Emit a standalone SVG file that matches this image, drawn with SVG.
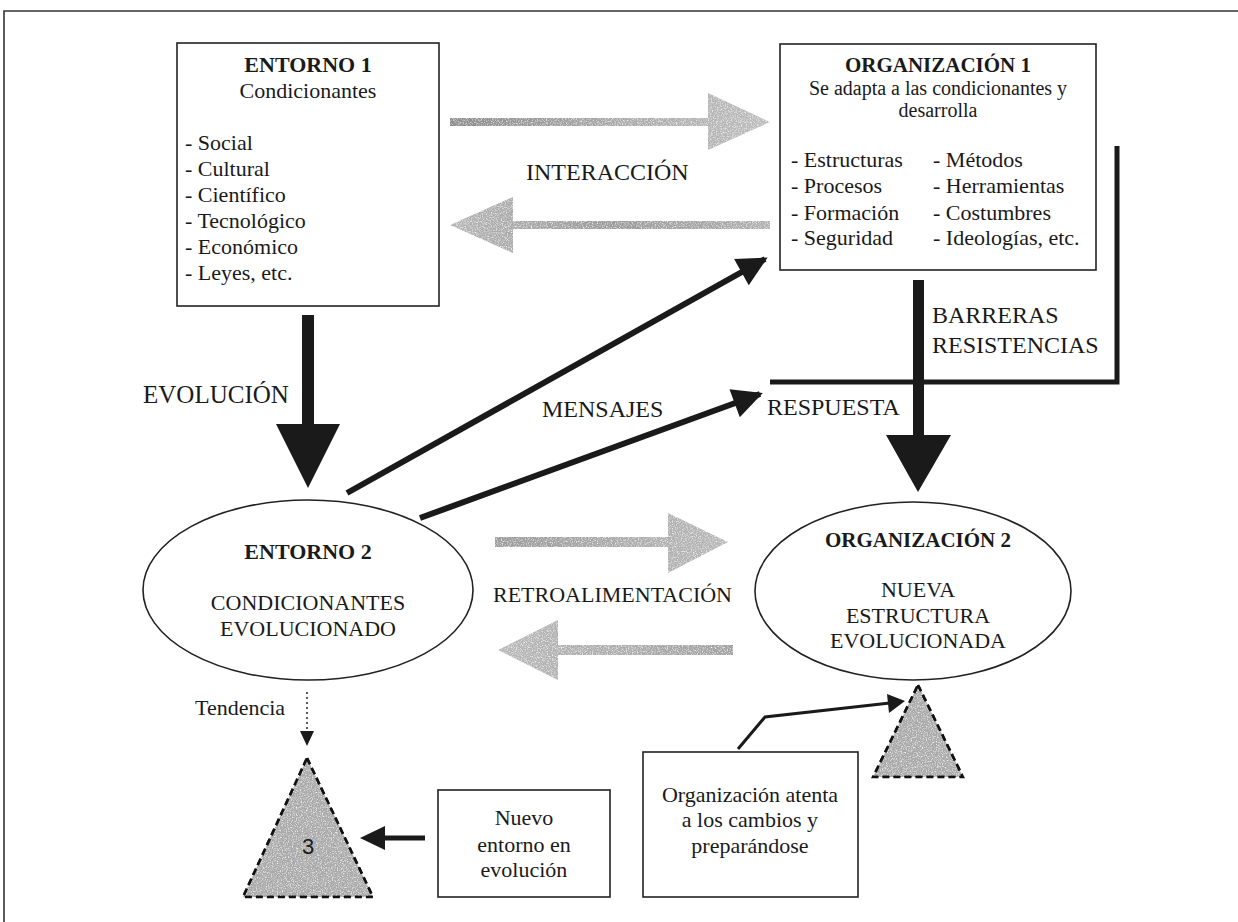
<svg xmlns="http://www.w3.org/2000/svg" width="1238" height="922" viewBox="0 0 1238 922">
<style>
text{font-family:"Liberation Serif","Times New Roman",serif;fill:#1a1a1a}
.t{font-size:22px}
.s{font-size:20px}
.b{font-size:21px;font-weight:bold}
.c{text-anchor:middle}
.lbl{font-size:24px}
.box{fill:#fff;stroke:#222;stroke-width:1.6}
.ell{fill:#fff;stroke:#222;stroke-width:1.6}
.blk{fill:#1a1a1a}
.ln{stroke:#1a1a1a;stroke-width:6;fill:none}
.tri{fill:#a9a9a9;stroke:#111;stroke-width:2.5;stroke-dasharray:7 4}
</style>
<defs>
<filter id="grain" x="0" y="0" width="100%" height="100%">
<feTurbulence type="fractalNoise" baseFrequency="0.8" numOctaves="2" seed="4" result="n"/>
<feColorMatrix in="n" type="matrix" values="0 0 0 0 0  0 0 0 0 0  0 0 0 0 0  0 0 0 -2.2 2.0" result="a"/>
<feComposite in="SourceGraphic" in2="a" operator="in"/>
</filter>
<linearGradient id="gR" x1="0" y1="0" x2="1" y2="0"><stop offset="0" stop-color="#8a8a8a"/><stop offset="0.5" stop-color="#a8a8a8"/><stop offset="1" stop-color="#bdbdbd"/></linearGradient>
<linearGradient id="gL" x1="0" y1="0" x2="1" y2="0"><stop offset="0" stop-color="#b5b5b5"/><stop offset="0.5" stop-color="#9a9a9a"/><stop offset="1" stop-color="#b0b0b0"/></linearGradient>
<linearGradient id="fR" x1="0" y1="0" x2="1" y2="0"><stop offset="0" stop-color="#9a9a9a"/><stop offset="1" stop-color="#b8b8b8"/></linearGradient>
<linearGradient id="fL" x1="0" y1="0" x2="1" y2="0"><stop offset="0" stop-color="#b8b8b8"/><stop offset="1" stop-color="#a0a0a0"/></linearGradient>
<marker id="ah" viewBox="0 0 10 10" refX="9" refY="5" markerWidth="5.5" markerHeight="5" markerUnits="strokeWidth" orient="auto"><path d="M0,0 L10,5 L0,10 z" fill="#1a1a1a"/></marker>
</defs>
<rect width="1238" height="922" fill="#fff"/>
<g id="frame" fill="none" stroke="#333" stroke-width="1.6">
<path d="M1238,11 L4,11 L4,922"/>
</g>

<g id="connectors">
<g filter="url(#grain)">
<path d="M450,118 L708,118 L708,93 L770,122 L708,150 L708,126 L450,126 z" fill="url(#gR)"/>
<path d="M770,221 L513,221 L513,197 L450,225 L513,253 L513,229 L770,229 z" fill="url(#gL)"/>
</g>
<g filter="url(#grain)">
<path d="M495,537 L668,537 L668,513 L728,542 L668,573 L668,547 L495,547 z" fill="url(#fR)"/>
<path d="M733,645 L558,645 L558,620 L498,650 L558,680 L558,655 L733,655 z" fill="url(#fL)"/>
</g>
<rect class="blk" x="302" y="315" width="12" height="110"/>
<polygon class="blk" points="276,424 340,424 308,488"/>
<rect class="blk" x="913" y="280" width="11" height="156"/>
<polygon class="blk" points="886,435 951,435 918,492"/>
<path d="M770,382 L1117,382 L1117,146" fill="none" stroke="#1a1a1a" stroke-width="5"/>
<line class="ln" x1="347" y1="493" x2="765" y2="259" marker-end="url(#ah)"/>
<line class="ln" x1="420" y1="518" x2="760" y2="394" marker-end="url(#ah)"/>
<line x1="307" y1="692" x2="307" y2="732" stroke="#333" stroke-width="1.6" stroke-dasharray="2 3"/>
<polygon class="blk" points="300,731 314,731 307,746"/>
<line x1="425" y1="838" x2="384" y2="838" stroke="#1a1a1a" stroke-width="5"/>
<polygon class="blk" points="385,826 385,850 360,838"/>
<polyline points="738,749 765,717 890,703" fill="none" stroke="#1a1a1a" stroke-width="3"/>
<polygon class="blk" points="887,694 905,701 889,713"/>
</g>

<g id="entorno1">
<rect class="box" x="177" y="43" width="262" height="263"/>
<text class="b c" x="308" y="72" style="font-size:22px">ENTORNO 1</text>
<text class="t c" x="308" y="98">Condicionantes</text>
<text class="t" x="185" y="150">- Social</text>
<text class="t" x="185" y="176">- Cultural</text>
<text class="t" x="185" y="202">- Científico</text>
<text class="t" x="185" y="228">- Tecnológico</text>
<text class="t" x="185" y="254">- Económico</text>
<text class="t" x="185" y="280">- Leyes, etc.</text>
</g>

<g id="organizacion1">
<rect class="box" x="780" y="44" width="316" height="226"/>
<text class="b c" x="938" y="72">ORGANIZACIÓN 1</text>
<text class="s c" x="938" y="95">Se adapta a las condicionantes y</text>
<text class="s c" x="938" y="117">desarrolla</text>
<text class="t" x="791" y="167">- Estructuras</text>
<text class="t" x="791" y="193">- Procesos</text>
<text class="t" x="791" y="220">- Formación</text>
<text class="t" x="791" y="245">- Seguridad</text>
<text class="t" x="933" y="167">- Métodos</text>
<text class="t" x="933" y="193">- Herramientas</text>
<text class="t" x="933" y="220">- Costumbres</text>
<text class="t" x="933" y="245">- Ideologías, etc.</text>
</g>

<g id="labels">
<text class="lbl" x="526" y="180">INTERACCIÓN</text>
<text class="lbl" x="143" y="403" style="font-size:25px">EVOLUCIÓN</text>
<text class="lbl" x="542" y="417">MENSAJES</text>
<text class="lbl" x="767" y="415">RESPUESTA</text>
<text class="lbl" x="932" y="323">BARRERAS</text>
<text class="lbl" x="932" y="353">RESISTENCIAS</text>
<text class="t" x="493" y="602">RETROALIMENTACIÓN</text>
<text class="t" x="195" y="715">Tendencia</text>
</g>

<g id="entorno2">
<ellipse class="ell" cx="308" cy="590" rx="165" ry="90"/>
<text class="b c" x="308" y="559" style="font-size:22px">ENTORNO 2</text>
<text class="t c" x="308" y="610">CONDICIONANTES</text>
<text class="t c" x="308" y="636">EVOLUCIONADO</text>
</g>

<g id="organizacion2">
<ellipse class="ell" cx="913" cy="591" rx="158" ry="89"/>
<text class="b c" x="918" y="547">ORGANIZACIÓN 2</text>
<text class="t c" x="918" y="597">NUEVA</text>
<text class="t c" x="918" y="623">ESTRUCTURA</text>
<text class="t c" x="918" y="648">EVOLUCIONADA</text>
</g>

<g id="triangulo3">
<polygon class="tri" points="307,758 373,897 243,897" filter="url(#grain)"/>
<polygon points="307,758 373,897 243,897" fill="none" stroke="#111" stroke-width="2.5" stroke-dasharray="7 4"/>
<text class="c" x="308" y="854" style="font-family:'Liberation Sans',Arial,sans-serif;font-size:22px">3</text>
</g>

<g id="triangulo-org">
<polygon class="tri" points="918,685 963,777 873,777" filter="url(#grain)"/>
<polygon points="918,685 963,777 873,777" fill="none" stroke="#111" stroke-width="2.5" stroke-dasharray="7 4"/>
</g>

<g id="nuevo-entorno">
<rect class="box" x="438" y="790" width="172" height="107"/>
<text class="t c" x="524" y="825">Nuevo</text>
<text class="t c" x="524" y="852">entorno en</text>
<text class="t c" x="524" y="877">evolución</text>
</g>

<g id="org-atenta">
<rect class="box" x="643" y="752" width="215" height="145"/>
<text class="t c" x="750" y="802">Organización atenta</text>
<text class="t c" x="750" y="827">a los cambios y</text>
<text class="t c" x="750" y="853">preparándose</text>
</g>
</svg>
